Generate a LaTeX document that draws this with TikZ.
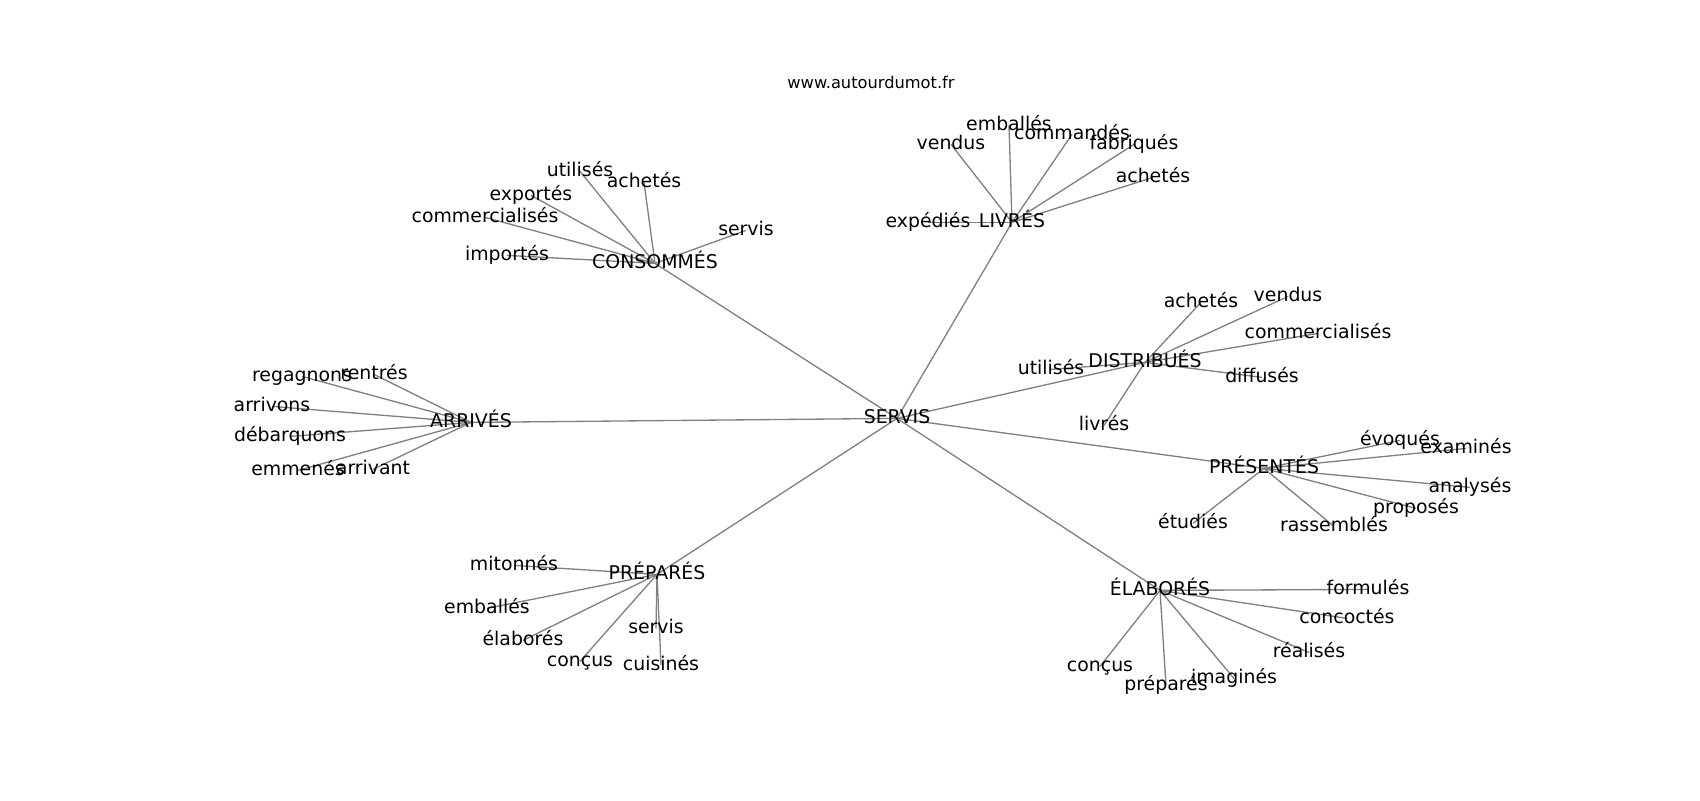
\documentclass[tikz,border=0pt]{standalone}
\usepackage{fontspec}
\setmainfont{DejaVu Sans}
\definecolor{edgegray}{RGB}{128,128,128}
\pgfdeclarelayer{bg}
\pgfsetlayers{bg,main}
\tikzset{
  lbl/.style={font=\fontsize{13.6}{16}\selectfont, inner sep=0pt, text height=0.73em, text depth=0pt, anchor=center, text=black, yshift=-1pt},
  ttl/.style={font=\fontsize{11.7}{14}\selectfont, inner sep=0pt, text height=0.73em, text depth=0pt, anchor=center},
  link/.style={draw=edgegray, line width=0.95pt}
}
\begin{document}
\begin{tikzpicture}[x=0.72pt,y=-0.72pt]
\useasboundingbox (0,0) rectangle (1700,800);
\node[ttl] (title) at (871,83) {www.autourdumot.fr};
% hub
\node[lbl] (S) at (897,417) {SERVIS};
% CONSOMMES
\node[lbl] (C) at (655,262) {CONSOMMÉS};
\node[lbl] (C1) at (580,170) {utilisés};
\node[lbl] (C2) at (644,181) {achetés};
\node[lbl] (C3) at (531,194) {exportés};
\node[lbl] (C4) at (485,216) {commercialisés};
\node[lbl] (C5) at (507,254) {importés};
\node[lbl] (C6) at (746,229) {servis};
% LIVRES
\node[lbl] (L) at (1012,221) {LIVRÉS};
\node[lbl] (L1) at (1009,124) {emballés};
\node[lbl] (L2) at (951,143) {vendus};
\node[lbl] (L3) at (1072,133) {commandés};
\node[lbl] (L4) at (1134,143) {fabriqués};
\node[lbl] (L5) at (1153,176) {achetés};
\node[lbl] (L6) at (928,221) {expédiés};
% ARRIVES
\node[lbl] (A) at (471,421) {ARRIVÉS};
\node[lbl] (A1) at (302,375) {regagnons};
\node[lbl] (A2) at (374,373) {rentrés};
\node[lbl] (A3) at (272,405) {arrivons};
\node[lbl] (A4) at (290,435) {débarquons};
\node[lbl] (A5) at (298,469) {emmenés};
\node[lbl] (A6) at (373,468) {arrivant};
% DISTRIBUES
\node[lbl] (D) at (1145,361) {DISTRIBUÉS};
\node[lbl] (D1) at (1201,301) {achetés};
\node[lbl] (D2) at (1288,295) {vendus};
\node[lbl] (D3) at (1318,332) {commercialisés};
\node[lbl] (D4) at (1051,368) {utilisés};
\node[lbl] (D5) at (1262,376) {diffusés};
\node[lbl] (D6) at (1104,424) {livrés};
% PRESENTES
\node[lbl] (P) at (1264,467) {PRÉSENTÉS};
\node[lbl] (P1) at (1400,439) {évoqués};
\node[lbl] (P2) at (1466,447) {examinés};
\node[lbl] (P3) at (1470,486) {analysés};
\node[lbl] (P4) at (1416,507) {proposés};
\node[lbl] (P5) at (1193,522) {étudiés};
\node[lbl] (P6) at (1334,525) {rassemblés};
% ELABORES
\node[lbl] (E) at (1160,589) {ÉLABORÉS};
\node[lbl] (E1) at (1368,588) {formulés};
\node[lbl] (E2) at (1347,617) {concoctés};
\node[lbl] (E3) at (1309,651) {réalisés};
\node[lbl] (E4) at (1234,677) {imaginés};
\node[lbl] (E5) at (1166,684) {préparés};
\node[lbl] (E6) at (1100,665) {conçus};
% PREPARES
\node[lbl] (R) at (657,573) {PRÉPARÉS};
\node[lbl] (R1) at (514,564) {mitonnés};
\node[lbl] (R2) at (487,607) {emballés};
\node[lbl] (R3) at (523,639) {élaborés};
\node[lbl] (R4) at (656,627) {servis};
\node[lbl] (R5) at (580,660) {conçus};
\node[lbl] (R6) at (661,664) {cuisinés};
\begin{pgfonlayer}{bg}
\foreach \h in {C,L,A,D,P,E,R}{
  \draw[link] (S.center) -- (\h.center);
  \foreach \i in {1,...,6}{
    \draw[link] (\h.center) -- (\h\i.center);
  }
}
\end{pgfonlayer}
\end{tikzpicture}
\end{document}
